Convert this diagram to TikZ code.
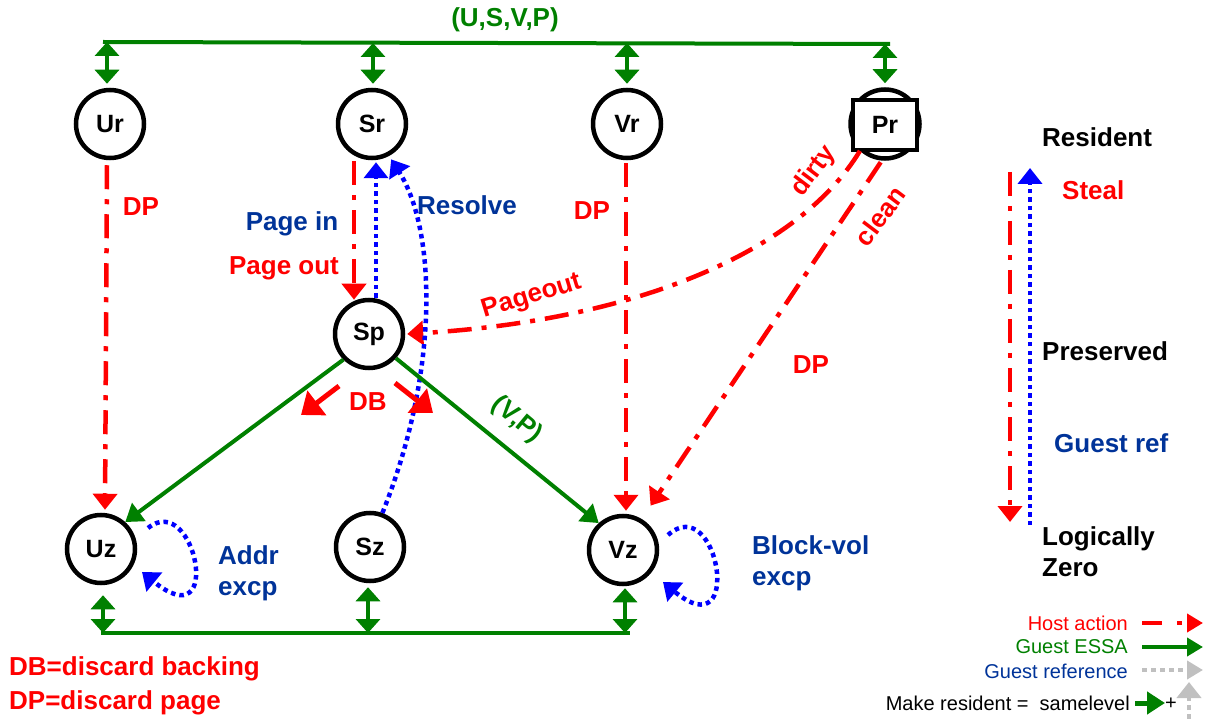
\documentclass[tikz,border=0pt]{standalone}
\usepackage{fontspec}
\setmainfont{Liberation Sans}
\usetikzlibrary{arrows.meta,calc}
\definecolor{gr}{RGB}{0,128,0}
\definecolor{tb}{RGB}{0,51,153}
\definecolor{lg}{RGB}{192,192,192}
\tikzset{
 st/.style={circle, draw, line width=4.5pt, minimum size=68pt, inner sep=0pt, font=\bfseries\fontsize{25}{28}\selectfont},
 host/.style={draw=red, line width=4.5pt, dash pattern=on 24pt off 10pt on 5pt off 10pt, -{Triangle[length=16pt,width=24pt]}},
 gref/.style={draw=blue, line width=4.5pt, dash pattern=on 4.5pt off 4pt, -{Triangle[length=16pt,width=24pt]}},
 essa/.style={draw=gr, line width=4pt, -{Triangle[length=17pt,width=22pt]}},
 bus/.style={draw=gr, line width=4pt},
 dbl/.style={draw=gr, line width=4pt, {Triangle[length=14pt,width=24pt]}-{Triangle[length=14pt,width=24pt]}},
 dbarrow/.style={draw=red, line width=5pt, -{Triangle[length=20pt,width=30pt]}},
 lab/.style={font=\bfseries\fontsize{26}{31}\selectfont, inner sep=0pt},
 leg/.style={font=\fontsize{20}{24}\selectfont, inner sep=0pt},
}
\begin{document}
\begin{tikzpicture}[x=1pt,y=-1pt]
\useasboundingbox (0,0) rectangle (1205,719);

% state nodes
\node[st] (Ur) at (110,124) {Ur};
\node[st] (Sr) at (372,124) {Sr};
\node[st] (Vr) at (627,124) {Vr};
\node[st, minimum size=69pt] (Pr) at (885,124) {};
\node[draw, fill=white, line width=4.5pt, minimum width=64pt, minimum height=50pt, inner sep=0pt, font=\bfseries\fontsize{25}{28}\selectfont] (Prbox) at (885,125) {Pr};
\node[st] (Sp) at (369,334) {Sp};
\node[st] (Uz) at (101,549) {Uz};
\node[st] (Sz) at (370,547) {Sz};
\node[st] (Vz) at (623,550) {Vz};

% top bus
\coordinate (busL) at (103,42);
\coordinate (busR) at (890,44);
\draw[bus] (busL) -- (busR);
\coordinate (bU) at (107,42);
\coordinate (bS) at (373,43);
\coordinate (bV) at (627,43);
\coordinate (bP) at (885,44);
\draw[dbl] (bU) -- ([xshift=-3pt,yshift=4pt]Ur.north);
\draw[dbl] (bS) -- ([xshift=1pt,yshift=4pt]Sr.north);
\draw[dbl] (bV) -- ([yshift=4pt]Vr.north);
\draw[dbl] (bP) -- ([yshift=4pt]Pr.north);
\node[lab, text=gr] (usvp) at (505,20) {(U,S,V,P)};

% bottom bus
\coordinate (cL) at (101,633);
\coordinate (cR) at (630,633);
\draw[bus] (cL) -- (cR);
\coordinate (cU) at (103,633);
\coordinate (cS) at (368,633);
\coordinate (cV) at (625,633);
\draw[dbl] (cU) -- ([xshift=2pt,yshift=-10pt]Uz.south);
\draw[dbl] (cS) -- ([xshift=-2pt,yshift=-4pt]Sz.south);
\draw[dbl] (cV) -- ([xshift=2pt,yshift=-2pt]Vz.south);

% host actions
\draw[host] ([xshift=-3pt,yshift=-5pt]Ur.south) -- ([xshift=4pt,yshift=3pt]Uz.north);
\draw[host] ([xshift=-18pt,yshift=-1pt]Sr.south) -- ([xshift=-15pt,yshift=-2pt]Sp.north);
\draw[host] ([xshift=-1pt,yshift=-3pt]Vr.south) -- ([xshift=3pt,yshift=3pt]Vz.north);
\draw[host] (Pr.-133) .. controls (800,250) and (640,320) .. ([xshift=2pt]Sp.east);
\draw[host, shorten <=2pt, shorten >=16pt] (Pr.-95) -- (Vz.59);

% guest references
\draw[gref] ([xshift=7pt]Sp.north) -- ([xshift=4pt,yshift=-2pt]Sr.south);
\draw[gref, shorten >=4pt] (Sz.70) .. controls (440,370) and (436,230) .. (Sr.-62);
\draw[gref] ($(Uz)+(47,-21)$) .. controls ($(Uz)+(94,-59)$) and ($(Uz)+(124,91)$) .. ($(Uz)+(41,23)$);
\draw[gref] ($(Vz)+(45,-15)$) .. controls ($(Vz)+(95,-60)$) and ($(Vz)+(122,100)$) .. ($(Vz)+(40,32)$);

% guest ESSA
\draw[essa] (Sp.-135) -- (Uz.48);
\draw[essa] (Sp.-42) -- (Vz.132);

% DB arrows
\coordinate (db1s) at (339,386);
\coordinate (db1e) at (301,415);
\coordinate (db2s) at (395,383);
\coordinate (db2e) at (433,413);
\draw[dbarrow] (db1s) -- (db1e);
\draw[dbarrow] (db2s) -- (db2e);

% labels
\node[lab, text=red] (dp1) at (141,207) {DP};
\node[lab, text=tb] (pin) at (292,224) {Page in};
\node[lab, text=red] (pout) at (284,268) {Page out};
\node[lab, text=tb] (res) at (467,205) {Resolve};
\node[lab, text=red] (dp2) at (592,211) {DP};
\node[lab, text=red, rotate=17] (po) at (532,297) {Pageout};
\node[lab, text=red, rotate=53] (dirty) at (814,171) {dirty};
\node[lab, text=red, rotate=53] (clean) at (880,216) {clean};
\node[lab, text=red] (dp3) at (811,365) {DP};
\node[lab, text=red] (db) at (368,402) {DB};
\node[lab, text=gr, rotate=-40] (vp) at (517,420) {(V,P)};
\node[lab, text=tb, align=left, anchor=west] (addr) at (218,573) {Addr\\excp};
\node[lab, text=tb, align=left, anchor=west] (blk) at (752,563) {Block-vol\\excp};

\node[lab, text=red, anchor=west] (kdb) at (9,669) {DB=discard backing};
\node[lab, text=red, anchor=west] (kdp) at (9,703) {DP=discard page};

% right legend
\node[lab, anchor=west] (lres) at (1042,137) {Resident};
\node[lab, text=red, anchor=west] (lsteal) at (1062,190) {Steal};
\node[lab, anchor=west] (lpres) at (1042,351) {Preserved};
\node[lab, text=tb, anchor=west] (lgref) at (1054,443) {Guest ref};
\node[lab, anchor=west, align=left] (lzero) at (1042,552) {Logically\\Zero};
\coordinate (stA) at (1010,172);
\coordinate (stB) at (1010,522);
\coordinate (grA) at (1030,525);
\coordinate (grB) at (1030,168);
\draw[host] (stA) -- (stB);
\draw[gref] (grA) -- (grB);

% bottom-right key
\node[leg, text=red, anchor=east] (khost) at (1128,623) {Host action};
\node[leg, text=gr, anchor=east] (kessa) at (1128,647) {Guest ESSA};
\node[leg, text=tb, anchor=east] (kgref) at (1128,671) {Guest reference};
\node[leg, anchor=east] (kmake) at (1130,703) {Make resident = \ samelevel};
\node[leg] (kplus) at (1171,704) {+};
\coordinate (h1) at (1142,623);
\coordinate (h2) at (1203,623);
\coordinate (e1) at (1142,647);
\coordinate (e2) at (1203,647);
\coordinate (g1) at (1142,670);
\coordinate (g2) at (1203,670);
\coordinate (m1) at (1135,703);
\coordinate (m2) at (1165,703);
\coordinate (u1) at (1189,719);
\coordinate (u2) at (1189,682);
\draw[draw=red, line width=4pt, dash pattern=on 20pt off 15pt on 5pt off 20pt, -{Triangle[length=16pt,width=18pt]}] (h1) -- (h2);
\draw[draw=gr, line width=4pt, -{Triangle[length=16pt,width=18pt]}] (e1) -- (e2);
\draw[draw=lg, line width=4pt, dash pattern=on 5pt off 4pt, -{Triangle[length=16pt,width=18pt]}] (g1) -- (g2);
\draw[draw=gr, line width=5pt, -{Triangle[length=18pt,width=22pt]}] (m1) -- (m2);
\draw[draw=lg, line width=4pt, dash pattern=on 5pt off 4pt, -{Triangle[length=16pt,width=24pt]}] (u1) -- (u2);
\end{tikzpicture}
\end{document}
